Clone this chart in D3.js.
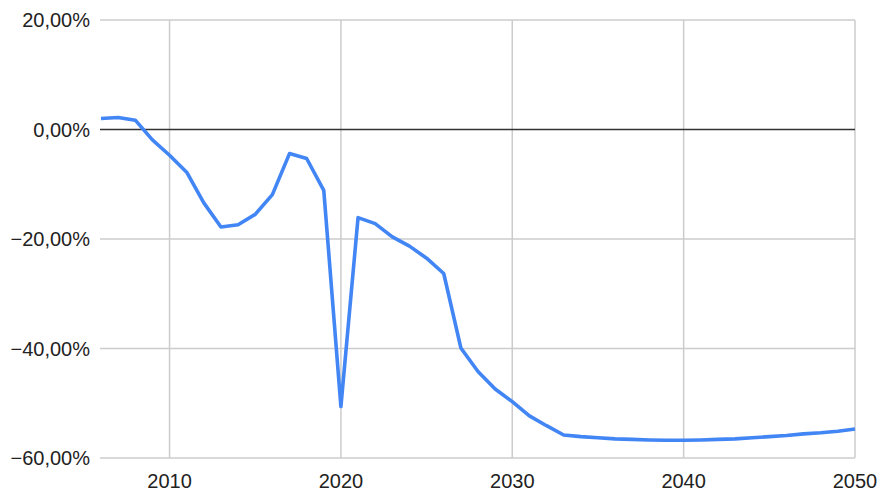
<!DOCTYPE html>
<html><head><meta charset="utf-8">
<script src="https://cdn.jsdelivr.net/npm/d3@7"></script>
<style>body{margin:0;background:#fff}svg{display:block}</style>
</head><body>
<svg id="c" width="881" height="491"></svg>
<script>
const years = [2006,2007,2008,2009,2010,2011,2012,2013,2014,2015,2016,2017,2018,2019,2020,2021,2022,2023,2024,2025,2026,2027,2028,2029,2030,2031,2032,2033,2034,2035,2036,2037,2038,2039,2040,2041,2042,2043,2044,2045,2046,2047,2048,2049,2050];
const values = [2.0,2.2,1.7,-1.9,-4.7,-7.8,-13.4,-17.8,-17.4,-15.5,-11.9,-4.4,-5.3,-11.1,-50.6,-16.1,-17.2,-19.6,-21.3,-23.5,-26.3,-39.9,-44.2,-47.4,-49.7,-52.3,-54.1,-55.8,-56.1,-56.3,-56.5,-56.6,-56.7,-56.75,-56.75,-56.7,-56.6,-56.5,-56.3,-56.1,-55.9,-55.6,-55.4,-55.1,-54.7];
const yTicks = [20,0,-20,-40,-60];
const xTicks = [2010,2020,2030,2040,2050];

const svg = d3.select("#c");
const x = d3.scaleLinear().domain([2006,2050]).range([101,855]);
const y = d3.scaleLinear().domain([-60,20]).range([458,20]);
const fmt = v => d3.format(".2f")(v).replace(".", ",") + "%";

svg.append("g").selectAll("line").data(yTicks.filter(d=>d!==0)).join("line")
  .attr("x1",100).attr("x2",855).attr("y1",d=>y(d)).attr("y2",d=>y(d))
  .attr("stroke","#cccccc").attr("stroke-width",1.5);
svg.append("g").selectAll("line").data(xTicks).join("line")
  .attr("x1",d=>x(d)).attr("x2",d=>x(d)).attr("y1",y(20)).attr("y2",y(-60))
  .attr("stroke","#cccccc").attr("stroke-width",1.5);
svg.append("line").attr("x1",100).attr("x2",855).attr("y1",y(0)).attr("y2",y(0))
  .attr("stroke","#333333").attr("stroke-width",1.6);

svg.append("g").selectAll("text").data(yTicks).join("text")
  .attr("x",90).attr("y",d=>y(d)).attr("dy","0.35em").attr("text-anchor","end")
  .attr("font-family","Liberation Sans, Arial, sans-serif").attr("font-size",20)
  .attr("fill","#222").text(fmt);
svg.append("g").selectAll("text").data(xTicks).join("text")
  .attr("x",d=>x(d)).attr("y",488).attr("text-anchor","middle")
  .attr("font-family","Liberation Sans, Arial, sans-serif").attr("font-size",20)
  .attr("fill","#222").text(d=>d);

const line = d3.line().x((d,i)=>x(years[i])).y(d=>y(d));
svg.append("path").datum(values).attr("d",line).attr("fill","none")
  .attr("stroke","#4285f4").attr("stroke-width",3.6).attr("stroke-linejoin","round");
</script>
</body></html>
